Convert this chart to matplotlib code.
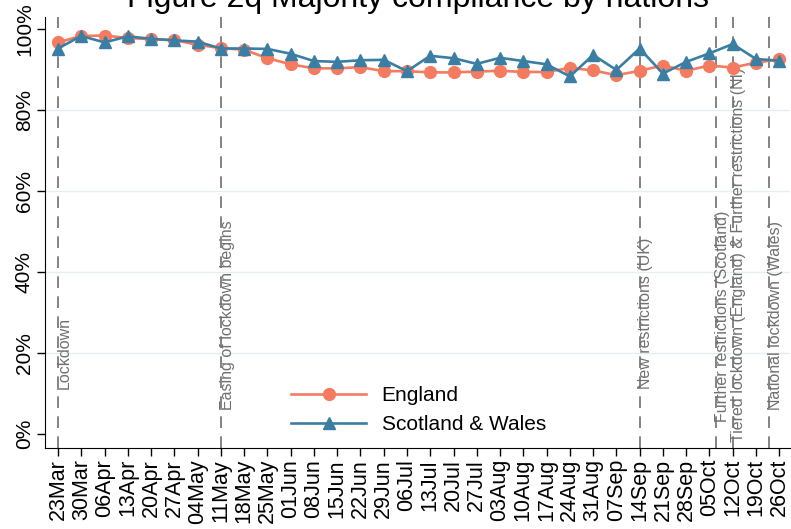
import pandas as pd
import matplotlib
matplotlib.use('Agg')
import matplotlib.pyplot as plt

plt.rcParams['font.family'] = ['Liberation Sans', 'DejaVu Sans']

# Dados (semanas e percentagens)
week_labels = ['23Mar', '30Mar', '06Apr', '13Apr', '20Apr', '27Apr', '04May', '11May',
               '18May', '25May', '01Jun', '08Jun', '15Jun', '22Jun', '29Jun', '06Jul',
               '13Jul', '20Jul', '27Jul', '03Aug', '10Aug', '17Aug', '24Aug', '31Aug',
               '07Sep', '14Sep', '21Sep', '28Sep', '05Oct', '12Oct', '19Oct', '26Oct']
england = [96.7, 98.3, 98.4, 97.8, 97.5, 97.3, 96.1, 95.3,
           94.9, 92.8, 91.3, 90.3, 90.3, 90.6, 89.6, 89.6,
           89.3, 89.3, 89.5, 89.7, 89.4, 89.4, 90.4, 89.8,
           88.6, 89.7, 91.0, 89.7, 91.0, 90.5, 91.7, 92.5]
scot_wales = [95.2, 98.3, 96.7, 98.2, 97.6, 97.2, 96.9, 95.2,
              95.2, 95.1, 93.9, 92.1, 91.9, 92.3, 92.4, 89.6,
              93.4, 92.8, 91.4, 92.9, 92.1, 91.3, 88.3, 93.6,
              89.9, 95.2, 89.0, 91.9, 94.0, 96.3, 92.6, 92.2]

event_dates = ['2020-03-23', '2020-05-11', '2020-09-14', '2020-10-07', '2020-10-12', '2020-10-23']
event_labels = ['Lockdown', 'Easing of lockdown begins', 'New restrictions (UK)',
                'Further restrictions (Scotland)',
                'Tiered lockdown (England) & Further restrictions (NI)',
                'National lockdown (Wales)']
event_label_y = [11, 6, 11, 3, -2, 6]

dates = pd.to_datetime([w + '2020' for w in week_labels], format='%d%b%Y')
ev_dates = pd.to_datetime(event_dates)

fig = plt.figure(figsize=(7.91, 5.29), dpi=100)
ax = fig.add_axes([0.0569, 0.1531, 0.9421, 0.8149])

# linhas de eventos
for d, lab, yy in zip(ev_dates, event_labels, event_label_y):
    ax.axvline(d, color='#6e6e6e', linewidth=1.2, dashes=(7, 5), zorder=1)
    ax.annotate(lab, xy=(d, yy), xytext=(4.5, 0), textcoords='offset points',
                rotation=90, ha='center', va='bottom', fontsize=11.5,
                color='#707070', zorder=1, annotation_clip=False)

ax.plot(dates, england, color='#F47B60', linewidth=1.9, marker='o',
        markersize=8.5, label='England', zorder=3)
ax.plot(dates, scot_wales, color='#3A7FA3', linewidth=1.9, marker='^',
        markersize=8.5, label='Scotland & Wales', zorder=4)

ax.set_xlim(dates[0] - pd.Timedelta(days=3.9), dates[-1] + pd.Timedelta(days=3.3))
ax.set_ylim(-3.5, 103)
ax.set_xticks(dates)
ax.set_xticklabels(week_labels, rotation=90, fontsize=15.5)
ax.set_yticks([0, 20, 40, 60, 80, 100])
ax.set_yticklabels(['0%', '20%', '40%', '60%', '80%', '100%'], rotation=90,
                   va='center', fontsize=15)
ax.tick_params(axis='both', length=6, width=1, direction='out', pad=2)

for yg in [20, 40, 60, 80]:
    ax.axhline(yg, color='#E6EEF0', linewidth=1, zorder=0)

ax.spines['top'].set_visible(False)
ax.spines['right'].set_visible(False)

ax.legend(loc='lower left', bbox_to_anchor=(0.305, -0.012), frameon=False,
          fontsize=15, handlelength=3.6, handletextpad=0.75, labelspacing=0.5)

fig.text(0.528, 0.987, 'Figure 2q Majority compliance by nations', ha='center',
         va='baseline', fontsize=23)

fig.savefig('out.png', dpi=100)
